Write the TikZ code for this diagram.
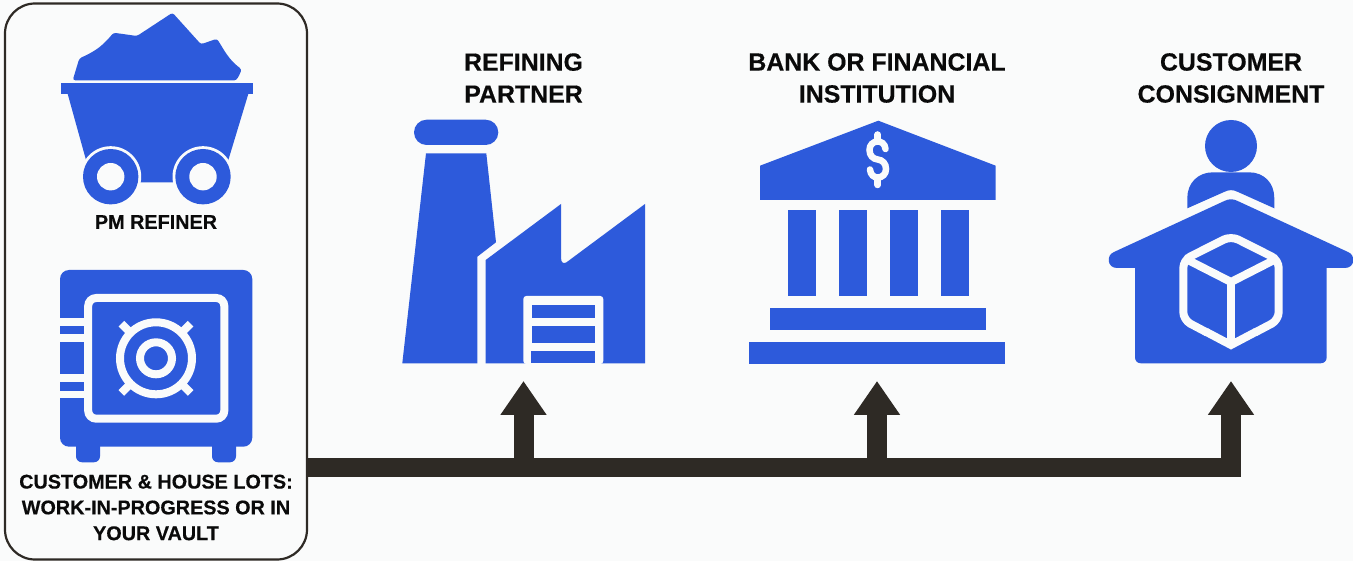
\documentclass[tikz,border=0pt]{standalone}
\usepackage{fontspec}
\setmainfont{Liberation Sans}[BoldFeatures={FakeBold=0.35}]
\usetikzlibrary{arrows.meta}
\definecolor{bgc}{HTML}{FAFBFB}
\definecolor{iconblue}{HTML}{2D5ADB}
\definecolor{barc}{HTML}{2E2A25}
\definecolor{txt}{HTML}{0A0A0A}
\tikzset{
  ink/.style={fill=iconblue,draw=none},
  cut/.style={fill=bgc,draw=none},
  cutline/.style={draw=bgc,line width=8pt,fill=none},
  biglabel/.style={inner sep=0pt,align=center,text=txt,font=\fontsize{24.9}{32}\selectfont\bfseries},
  smalllabel/.style={inner sep=0pt,align=center,text=txt,font=\fontsize{19.8}{25.8}\selectfont\bfseries},
  panelbox/.style={draw=barc,line width=2.2pt,rounded corners=30pt,minimum width=302pt,minimum height=556pt,inner sep=0pt},
  branchline/.style={draw=barc,line width=20pt,-{Triangle[length=34pt,width=44pt]}},
  busbar/.style={draw=barc,line width=19pt}
}
\begin{document}
\begin{tikzpicture}[x=1pt,y=-1pt]
\useasboundingbox (0,0) rectangle (1353,561);
\fill[bgc] (0,0) rectangle (1353,561);
\node[panelbox] (panel) at (156,281.5) {};

% ore cart
\path[ink,rounded corners=2.5pt] (72.7,80.3) -- (79.3,58.5) .. controls (93,52) and (101,48) .. (113.5,32.7) -- (137,36) -- (172.5,12.7) -- (201,44.3) -- (217,38.7) .. controls (224,50) and (229,60) .. (241.7,69.3) .. controls (239,76) and (237,80.3) .. (232,80.3) -- cycle;
\path[ink] (61,83) rectangle (253,94.3);
\path[ink] (67.7,94) -- (248.3,94) -- (221.6,182.3) -- (92.2,182.3) -- cycle;
\foreach \n/\cx in {wl/110.7,wr/203}{
  \fill[bgc] (\cx,176.7) circle (30.5pt);
  \fill[iconblue] (\cx,176.7) circle (27.7pt);
  \fill[bgc] (\cx,176.7) circle (13.7pt);
}
\node[smalllabel] (lcart) at (156,222) {PM REFINER};

% safe
\path[ink,rounded corners=6pt] (76,440) -- (76,462.3) -- (100,462.3) -- (100,440) -- cycle;
\path[ink,rounded corners=6pt] (212,440) -- (212,462.3) -- (236,462.3) -- (236,440) -- cycle;
\path[ink,rounded corners=9pt] (60,270) rectangle (252.3,446.7);
\foreach \ya/\yb in {318.3/326,334/341.7,374/382,390.7/398.3}{
  \path[cut] (59,\ya) rectangle (86,\yb);
}
\draw[cutline,rounded corners=8pt] (88.2,298) rectangle (224.3,418.7);
\draw[cutline] (156,358.3) circle (36pt);
\draw[cutline] (156,358.3) circle (16pt);
\foreach \a in {45,135,225,315}{
  \draw[bgc,line width=8pt] (156,358.3) ++(\a:38pt) -- ++(\a:11pt);
}
\node[smalllabel] (lsafe) at (156,507.5) {CUSTOMER \& HOUSE LOTS:\\WORK-IN-PROGRESS OR IN\\YOUR VAULT};

% factory
\path[ink,rounded corners=12.6pt] (414,119.7) rectangle (498.3,145);
\path[ink] (426,153.3) -- (486.3,153.3) -- (496,242.3) -- (477.3,256.7) -- (477.3,363.3) -- (402.3,363.3) -- cycle;
\path[ink] (485.7,260) -- (561,204) -- (561,258) .. controls (561,263) and (564,264) .. (566.5,262.3) -- (645,204) -- (645,363.3) -- (485.7,363.3) -- cycle;
\path[cut,rounded corners=3pt] (523.3,296) -- (603.3,296) -- (603.3,364) -- (523.3,364) -- cycle;
\path[ink] (532,305) rectangle (595,317.7);
\path[ink] (532,326) rectangle (595,342.7);
\path[ink] (531,351) rectangle (595,363.3);
\node[biglabel] (lfactory) at (523.5,78) {REFINING\\PARTNER};

% bank
\path[ink] (878.3,120.7) -- (995.7,165.7) -- (995.7,200) -- (760,200) -- (760,165.7) -- cycle;
\foreach \cx in {787.5,838.5,889.5,940.5}{
  \path[ink] (\cx,210.3) rectangle (\cx+28,296);
}
\path[ink] (770,308) rectangle (985.7,330);
\path[ink] (749.3,341.7) rectangle (1004.7,363.7);
\draw[bgc,line width=6.5pt,line cap=round] (885.5,149) .. controls (885,143.5) and (881,141.5) .. (877.7,141.5) .. controls (873,141.5) and (869.5,145) .. (869.5,150) .. controls (869.5,155.5) and (873,159) .. (877.7,159.5) .. controls (882.5,160) and (886,163.5) .. (886,169) .. controls (886,174) and (882.5,177.5) .. (877.7,177.5) .. controls (874,177.5) and (870.5,175) .. (870,169.5);
\draw[bgc,line width=6.5pt,line cap=round] (877.7,134.5) -- (877.7,141.5);
\draw[bgc,line width=6.5pt,line cap=round] (877.7,177.5) -- (877.7,185);
\node[biglabel] (lbank) at (877,78) {BANK OR FINANCIAL\\INSTITUTION};

% consignment house
\fill[iconblue] (1231,146) circle (26pt);
\path[ink] (1187.3,208.3) -- (1187.3,198) .. controls (1187.3,183) and (1198,172.3) .. (1213,172.3) -- (1249,172.3) .. controls (1264,172.3) and (1274.3,183) .. (1274.3,198) -- (1274.3,208.3) -- (1238,192) .. controls (1233,189.5) and (1229,189.5) .. (1224,192) -- cycle;
\path[ink] (1135,268) -- (1117,268) .. controls (1107,268) and (1106,255) .. (1114,252) -- (1225,200.7) .. controls (1229,198.8) and (1233,198.8) .. (1237,200.7) -- (1348,252) .. controls (1356,255) and (1355,268) .. (1345,268) -- (1326.7,268) -- (1326.7,357.3) .. controls (1326.7,361) and (1324,363.3) .. (1320.7,363.3) -- (1141,363.3) .. controls (1137.5,363.3) and (1135,361) .. (1135,357.3) -- cycle;
\draw[cutline,rounded corners=8pt] (1207,332.5) -- (1183.3,320) -- (1183.3,260) -- (1231,236) -- (1278.7,260) -- (1278.7,320) -- (1255,332.5);
\draw[cutline,line join=miter] (1206,331.8) -- (1231,345) -- (1256,331.8);
\draw[cutline] (1184,258) -- (1231,282) -- (1278,258);
\draw[cutline] (1231,282) -- (1231,345);
\node[biglabel] (lhouse) at (1231,78) {CUSTOMER\\CONSIGNMENT};

% connectors
\coordinate (j1) at (523.5,467);
\coordinate (j2) at (877,467);
\coordinate (j3) at (1231,467);
\coordinate (t1) at (523.5,381);
\coordinate (t2) at (877,381);
\coordinate (t3) at (1231,381);
\draw[branchline] (j1) -- (t1);
\draw[branchline] (j2) -- (t2);
\draw[busbar,line cap=butt] (panel.east |- j3) -- (1240.5,467);
\draw[branchline] (j3) -- (t3);
\end{tikzpicture}
\end{document}
